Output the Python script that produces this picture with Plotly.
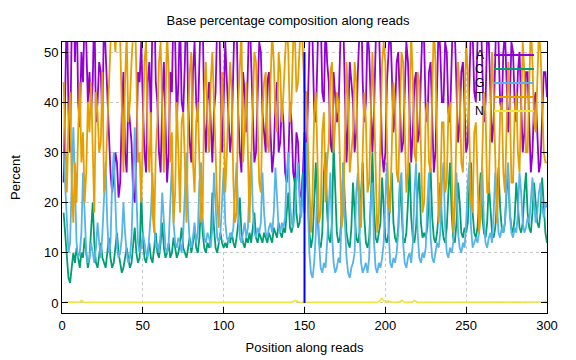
import plotly.graph_objects as go

positions = list(range(1, 301))

base_A = [
    24, 42, 60, 38, 30, 55, 66, 48, 62, 40, 35, 50, 44, 58, 52, 40, 46, 38, 44, 60, 36, 40, 48, 46, 36,
    58, 50, 40, 34, 26, 22, 25, 30, 28, 21, 24, 38, 46, 30, 26, 40, 36, 32, 22, 20, 30, 46, 44, 52, 40,
    30, 26, 44, 48, 36, 58, 64, 44, 40, 30, 26, 40, 48, 36, 24, 30, 46, 42, 60, 52, 36, 44, 58, 40, 38,
    48, 62, 40, 32, 28, 46, 52, 40, 36, 50, 60, 58, 36, 30, 40, 44, 34, 28, 38, 42, 56, 62, 44, 30, 40,
    52, 44, 38, 30, 34, 48, 60, 56, 38, 30, 26, 46, 42, 34, 44, 60, 48, 36, 28, 30, 40, 52, 50, 38, 34,
    30, 44, 46, 34, 26, 30, 40, 44, 30, 32, 40, 36, 26, 24, 28, 40, 36, 26, 24, 34, 32, 22, 21, 26, 34,
    26, 40, 56, 64, 52, 38, 36, 50, 62, 58, 42, 40, 56, 48, 44, 32, 30, 46, 40, 36, 38, 50, 62, 56, 40,
    28, 36, 48, 44, 40, 30, 34, 46, 56, 62, 44, 36, 40, 54, 50, 40, 30, 38, 50, 64, 56, 42, 30, 26, 30,
    44, 54, 56, 46, 34, 38, 48, 50, 40, 30, 32, 42, 52, 48, 36, 28, 34, 44, 46, 32, 34, 42, 56, 52, 38,
    36, 46, 48, 34, 26, 30, 44, 56, 50, 40, 40, 52, 50, 38, 36, 48, 60, 54, 42, 32, 36, 46, 48, 38, 30,
    32, 42, 56, 54, 42, 40, 52, 64, 58, 44, 36, 40, 54, 52, 42, 32, 36, 48, 62, 52, 40, 38, 50, 54, 42,
    34, 40, 52, 50, 40, 36, 46, 50, 38, 30, 34, 46, 46, 34, 26, 30, 40, 42, 32, 26, 28, 38, 46, 46, 41,
]

base_C = [
    18, 14, 9, 5, 4, 7, 10, 8, 11, 9, 7, 10, 9, 13, 10, 7, 9, 14, 20, 12, 8, 7, 10, 12, 9,
    8, 7, 10, 13, 9, 7, 8, 11, 14, 10, 8, 6, 7, 9, 11, 9, 7, 8, 12, 15, 10, 8, 9, 22, 13,
    9, 8, 10, 12, 9, 8, 11, 14, 10, 9, 12, 16, 11, 9, 10, 12, 9, 10, 13, 11, 9, 10, 12, 15, 11,
    10, 9, 11, 13, 10, 12, 15, 11, 10, 13, 20, 14, 11, 10, 12, 11, 13, 22, 15, 11, 10, 12, 14, 12, 11,
    12, 11, 13, 12, 14, 12, 11, 13, 16, 21, 14, 12, 11, 13, 12, 14, 12, 15, 18, 13, 12, 14, 13, 12, 14,
    13, 12, 14, 13, 12, 15, 14, 13, 16, 14, 13, 15, 14, 18, 22, 15, 14, 16, 25, 18, 15, 16, 20, 26, 18,
    30, 22, 14, 11, 13, 20, 28, 18, 12, 11, 14, 26, 30, 18, 13, 12, 16, 32, 22, 14, 12, 13, 18, 28, 20,
    14, 12, 11, 15, 24, 18, 13, 12, 14, 22, 28, 17, 12, 11, 13, 20, 30, 19, 13, 12, 14, 16, 25, 18, 13,
    12, 14, 22, 26, 16, 13, 12, 15, 24, 18, 13, 12, 14, 20, 28, 17, 13, 12, 15, 22, 26, 16, 13, 14, 13,
    15, 22, 27, 17, 13, 12, 14, 18, 24, 16, 13, 12, 15, 22, 28, 18, 13, 12, 16, 24, 20, 14, 13, 15, 14,
    16, 24, 28, 18, 14, 13, 15, 22, 26, 17, 14, 13, 16, 24, 18, 14, 13, 15, 20, 27, 19, 15, 14, 16, 22,
    26, 18, 15, 14, 17, 24, 20, 15, 14, 16, 22, 26, 18, 15, 14, 18, 24, 20, 16, 15, 18, 25, 19, 14, 12,
]

base_G = [
    30, 24, 16, 10, 12, 22, 35, 24, 12, 9, 10, 14, 26, 18, 10, 8, 9, 12, 10, 8, 11, 16, 12, 9, 14,
    22, 28, 16, 10, 12, 24, 30, 18, 11, 9, 10, 13, 20, 14, 10, 8, 9, 13, 24, 35, 22, 12, 10, 11, 14,
    12, 10, 9, 13, 18, 26, 16, 11, 12, 10, 14, 22, 15, 11, 10, 12, 20, 28, 16, 12, 11, 13, 12, 10, 14,
    22, 30, 18, 12, 11, 13, 16, 12, 14, 24, 28, 17, 13, 12, 14, 13, 11, 15, 26, 18, 13, 12, 14, 20, 27,
    16, 13, 12, 14, 13, 15, 22, 28, 18, 13, 12, 14, 16, 13, 15, 24, 30, 19, 14, 13, 15, 14, 16, 26, 18,
    14, 13, 15, 16, 14, 18, 27, 20, 15, 14, 16, 15, 17, 26, 30, 20, 16, 15, 18, 24, 28, 20, 17, 22, 30,
    32, 22, 10, 6, 5, 8, 14, 24, 12, 7, 6, 8, 7, 12, 20, 26, 14, 8, 6, 7, 9, 8, 18, 28, 16,
    9, 6, 5, 7, 8, 10, 22, 26, 14, 8, 6, 7, 8, 6, 9, 20, 24, 12, 7, 6, 8, 7, 9, 12, 22,
    28, 15, 8, 7, 9, 8, 10, 14, 24, 26, 12, 8, 7, 9, 10, 8, 12, 22, 28, 14, 9, 8, 10, 9, 11,
    20, 26, 13, 9, 8, 10, 12, 11, 14, 24, 28, 15, 10, 9, 11, 10, 12, 20, 26, 14, 11, 10, 12, 11, 16,
    24, 28, 15, 11, 12, 13, 12, 14, 22, 27, 16, 12, 11, 13, 14, 12, 18, 26, 20, 14, 13, 15, 14, 16, 24,
    28, 18, 14, 13, 15, 14, 18, 26, 22, 16, 14, 15, 17, 16, 20, 25, 20, 16, 18, 22, 24, 19, 17, 20, 19,
]

base_T = [
    44, 34, 22, 36, 42, 24, 16, 28, 20, 34, 44, 28, 34, 20, 26, 40, 34, 44, 32, 18, 42, 38, 30, 32, 46,
    22, 26, 36, 44, 54, 60, 56, 50, 56, 60, 52, 36, 26, 44, 54, 36, 40, 48, 58, 60, 46, 28, 30, 20, 34,
    48, 52, 32, 26, 38, 18, 14, 30, 36, 48, 52, 38, 26, 40, 54, 46, 28, 34, 16, 22, 40, 30, 18, 36, 38,
    28, 16, 36, 46, 50, 28, 22, 36, 40, 26, 16, 18, 42, 48, 36, 30, 44, 50, 40, 34, 20, 15, 32, 46, 36,
    22, 30, 38, 48, 42, 24, 16, 18, 40, 50, 54, 28, 34, 44, 30, 16, 28, 42, 50, 48, 36, 24, 22, 38, 44,
    46, 32, 30, 44, 54, 48, 38, 34, 50, 46, 36, 42, 52, 56, 50, 36, 40, 52, 54, 42, 44, 56, 58, 50, 42,
    42, 32, 20, 14, 22, 38, 42, 26, 16, 18, 34, 38, 20, 28, 32, 46, 48, 30, 36, 42, 40, 26, 15, 18, 36,
    48, 40, 26, 30, 34, 48, 44, 28, 20, 15, 30, 42, 36, 22, 24, 36, 50, 40, 26, 14, 18, 34, 48, 52, 48,
    32, 20, 18, 30, 44, 40, 26, 24, 36, 50, 48, 36, 22, 26, 42, 54, 44, 30, 28, 46, 44, 32, 18, 20, 38,
    40, 28, 26, 44, 56, 48, 30, 16, 22, 36, 36, 22, 24, 38, 40, 28, 14, 20, 34, 48, 42, 28, 26, 40, 52,
    46, 34, 20, 18, 34, 36, 22, 14, 18, 32, 42, 38, 22, 22, 36, 50, 42, 28, 16, 24, 38, 40, 26, 22, 36,
    48, 40, 24, 24, 38, 42, 30, 26, 40, 52, 46, 30, 30, 44, 56, 48, 36, 34, 46, 54, 50, 38, 30, 28, 28,
]

base_N = [
    0.1, 0.1, 0.1, 0.1, 0.1, 0.1, 0.1, 0.1, 0.1, 0.1, 0.2, 0.5, 0.2, 0.1, 0.1, 0.1, 0.1, 0.1, 0.1, 0.1, 0.1, 0.1, 0.1, 0.1, 0.1,
    0.1, 0.1, 0.1, 0.1, 0.1, 0.1, 0.1, 0.1, 0.1, 0.1, 0.1, 0.1, 0.1, 0.1, 0.1, 0.1, 0.1, 0.1, 0.1, 0.1, 0.1, 0.1, 0.1, 0.1, 0.1,
    0.1, 0.1, 0.1, 0.1, 0.1, 0.1, 0.1, 0.1, 0.1, 0.1, 0.1, 0.1, 0.1, 0.1, 0.1, 0.1, 0.1, 0.1, 0.1, 0.1, 0.1, 0.1, 0.1, 0.1, 0.1,
    0.1, 0.1, 0.1, 0.1, 0.1, 0.1, 0.1, 0.1, 0.1, 0.1, 0.1, 0.1, 0.1, 0.1, 0.1, 0.1, 0.1, 0.1, 0.1, 0.1, 0.1, 0.1, 0.1, 0.1, 0.1,
    0.1, 0.1, 0.1, 0.1, 0.1, 0.1, 0.1, 0.1, 0.1, 0.1, 0.1, 0.1, 0.1, 0.1, 0.1, 0.1, 0.1, 0.1, 0.1, 0.1, 0.1, 0.1, 0.1, 0.1, 0.1,
    0.1, 0.1, 0.1, 0.1, 0.1, 0.1, 0.1, 0.1, 0.1, 0.1, 0.1, 0.1, 0.1, 0.1, 0.1, 0.1, 0.1, 0.3, 0.5, 0.4, 0.2, 0.1, 0.1, 0.1, 0.1,
    0.1, 0.1, 0.1, 0.1, 0.1, 0.1, 0.1, 0.1, 0.1, 0.1, 0.1, 0.1, 0.1, 0.1, 0.1, 0.1, 0.1, 0.1, 0.1, 0.1, 0.1, 0.1, 0.1, 0.1, 0.1,
    0.1, 0.1, 0.1, 0.1, 0.1, 0.1, 0.1, 0.1, 0.1, 0.1, 0.1, 0.1, 0.1, 0.1, 0.1, 0.1, 0.1, 0.1, 0.1, 0.1, 0.3, 0.7, 0.9, 0.4, 0.2,
    0.3, 0.4, 0.2, 0.1, 0.1, 0.1, 0.1, 0.1, 0.2, 0.5, 0.2, 0.1, 0.1, 0.1, 0.1, 0.1, 0.2, 0.5, 0.2, 0.1, 0.1, 0.1, 0.1, 0.1, 0.1,
    0.1, 0.1, 0.1, 0.1, 0.1, 0.1, 0.1, 0.1, 0.1, 0.1, 0.1, 0.1, 0.1, 0.1, 0.1, 0.1, 0.1, 0.1, 0.1, 0.1, 0.1, 0.1, 0.1, 0.1, 0.1,
    0.1, 0.1, 0.1, 0.1, 0.1, 0.1, 0.1, 0.1, 0.1, 0.1, 0.1, 0.1, 0.1, 0.1, 0.1, 0.1, 0.1, 0.1, 0.1, 0.1, 0.1, 0.1, 0.1, 0.1, 0.1,
    0.1, 0.1, 0.1, 0.1, 0.1, 0.1, 0.1, 0.1, 0.1, 0.1, 0.1, 0.1, 0.1, 0.1, 0.1, 0.1, 0.1, 0.1, 0.1, 0.1, 0.1, 0.1, 0.2, 0.3, 0.2,
]

series_names = ["A", "C", "G", "T", "N"]
series_values = [base_A, base_C, base_G, base_T, base_N]
series_colors = ["#9400D3", "#009E73", "#56B4E9", "#E69F00", "#F0E442"]

# read boundary marker (between the two mates)
boundary_x = [150, 150]
boundary_y = [0, 50]

FONT = "Liberation Sans, Arial, sans-serif"

fig = go.Figure()
for name, vals, col in zip(series_names, series_values, series_colors):
    fig.add_trace(go.Scatter(x=positions, y=vals, mode="lines", name=name,
                             line=dict(color=col, width=1.8), showlegend=False))

fig.add_trace(go.Scatter(x=boundary_x, y=boundary_y, mode="lines",
                         line=dict(color="#0000FF", width=2), showlegend=False))

# gnuplot-like key: label right-aligned, sample line to its right
L, R, T, B = 62, 547, 42, 313
W, H = R - L, B - T
def px(xp):
    return (xp - L) / W
def py(yp):
    return (B - yp) / H

key_y0 = 55
for i, (name, col) in enumerate(zip(series_names, series_colors)):
    yy = key_y0 + i * 14
    fig.add_annotation(x=px(486), y=py(yy), xref="paper", yref="paper",
                       text=name, showarrow=False, xanchor="right", yanchor="middle",
                       font=dict(family=FONT, size=12, color="black"))
    fig.add_shape(type="line", xref="paper", yref="paper",
                  x0=px(494), x1=px(534), y0=py(yy), y1=py(yy),
                  line=dict(color=col, width=1.8))

axis_common = dict(
    showline=True, linecolor="black", linewidth=1, mirror="allticks",
    ticks="inside", ticklen=6, tickcolor="black",
    showgrid=True, gridcolor="#c8c8c8", griddash="dot", gridwidth=1,
    zeroline=False, automargin=False,
    tickfont=dict(family=FONT, size=13, color="black"),
)

fig.update_layout(
    width=576, height=360,
    margin=dict(l=L, r=576 - R, t=T, b=360 - B),
    paper_bgcolor="white", plot_bgcolor="white",
    title=dict(text="Base percentage composition along reads", x=0.5, xanchor="center",
               y=1 - 20 / 360, yanchor="middle",
               font=dict(family=FONT, size=13, color="black")),
    xaxis=dict(range=[0, 300], tickvals=[0, 50, 100, 150, 200, 250, 300],
               title=dict(text="Position along reads", font=dict(family=FONT, size=13, color="black"),
                          standoff=11),
               **axis_common),
    yaxis=dict(range=[-2, 52], tickvals=[0, 10, 20, 30, 40, 50],
               title=dict(text="Percent", font=dict(family=FONT, size=13, color="black"),
                          standoff=20),
               **axis_common),
)

fig.write_html("out.html", config={"displayModeBar": False},
               post_script="document.body.style.margin='0';document.body.style.padding='0';")
